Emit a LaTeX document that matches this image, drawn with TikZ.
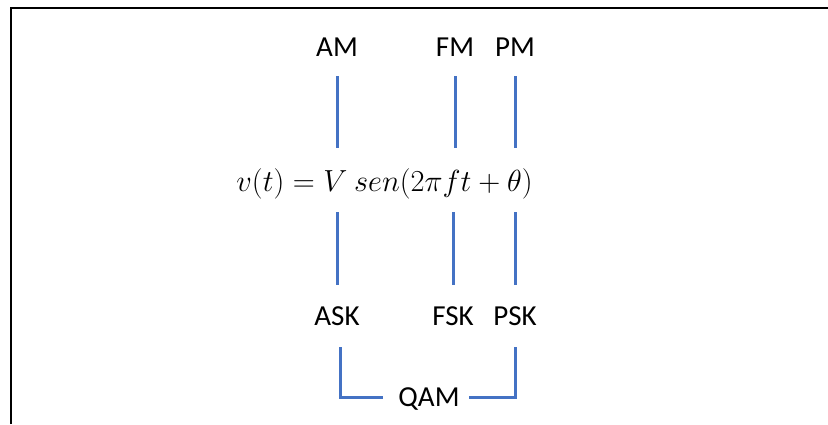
\RequirePackage{fix-cm}
\documentclass[tikz,border=0pt]{standalone}
\usepackage[no-math]{fontspec}
\setmainfont{Carlito}
\usetikzlibrary{positioning,calc}
\definecolor{linkc}{HTML}{4472C4}
\definecolor{framec}{HTML}{000000}

\begin{document}
\begin{tikzpicture}[
  x=1pt, y=-1pt,
  lbl/.style={font=\fontsize{29}{33}\selectfont, inner sep=0pt,
              text height=18pt, text depth=0pt},
  eqn/.style={font=\fontsize{30.5}{34}\selectfont, inner sep=0pt,
              text height=23pt, text depth=7pt, anchor=base},
  link/.style={draw=linkc, line width=3pt},
  frame/.style={draw=framec, line width=2pt},
]
\useasboundingbox (0,0) rectangle (828,424);

% ---- outer frame (cut off at right and bottom) ----
\draw[frame] (11,424) -- (11,8) -- (828,8);

% ---- analog schemes ----
\node[lbl] (am) at (337,47) {AM};
\node[lbl] (fm) at (455,47) {FM};
\node[lbl] (pm) at (515,47) {PM};

% ---- carrier ----
\node[eqn] (eq) at (384.5,191) {$v(t) = V\ sen(2\pi f t + \theta)$};

% ---- digital schemes ----
\node[lbl] (ask) at (337,316) {ASK};
\node[lbl] (fsk) at (453,316) {FSK};
\node[lbl] (psk) at (515,316) {PSK};
\node[lbl] (qam) at (429,397) {QAM};

% ---- links to the carrier ----
\foreach \n in {am,fm,pm}
  \draw[link, shorten <=20pt, shorten >=20pt] (\n.south) -- (\n.south |- eq.north);
\foreach \n in {ask,fsk,psk}
  \draw[link, shorten <=14pt, shorten >=22pt] (\n.north |- eq.south) -- (\n.north);

% ---- QAM bracket ----
\draw[link, shorten <=22pt, shorten >=15pt] ([xshift=3pt]ask.south) |- (qam.west);
\draw[link, shorten <=22pt, shorten >=9pt] (psk.south) |- (qam.east);
\end{tikzpicture}
\end{document}
